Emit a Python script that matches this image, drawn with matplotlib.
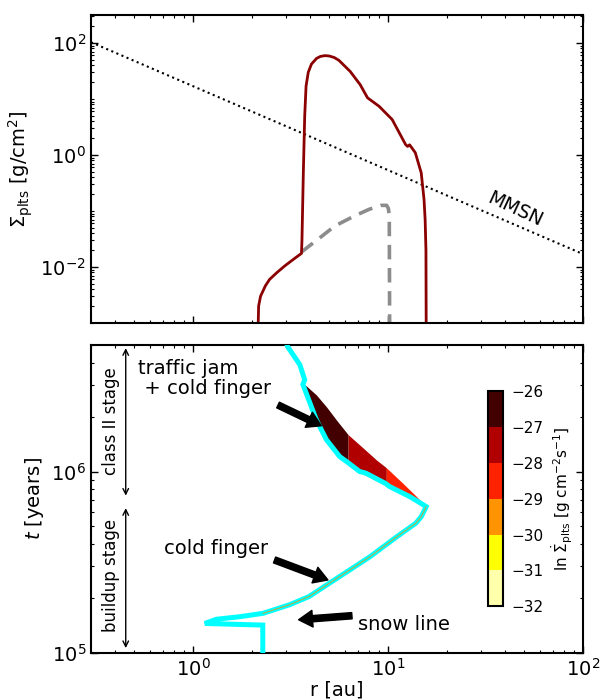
import numpy as np
import matplotlib

matplotlib.use("Agg")
import matplotlib.pyplot as plt
from matplotlib.colors import ListedColormap, BoundaryNorm
from matplotlib.cm import ScalarMappable
from matplotlib.ticker import LogLocator, LogFormatterSciNotation, NullFormatter

# --- ust panel: yuzey yogunlugu profilleri ---
r_sig = [2.15, 2.17, 2.22, 2.35, 2.47, 2.7, 2.96, 3.3, 3.6, 3.62, 3.68, 3.74, 3.8,
         3.9, 4.05, 4.3, 4.5, 4.75, 5.0, 5.3, 5.6, 6.4, 7.2, 7.85, 9.0, 10.5,
         12.3, 12.6, 12.9, 13.8, 14.8, 15.3, 15.5, 15.65, 15.7]
sig = [5e-4, 2e-3, 3e-3, 4.6e-3, 6e-3, 8e-3, 0.0105, 0.014, 0.0175, 0.03, 0.5, 5.0,
       17.0, 30.0, 42.0, 53.0, 57.5, 59.5, 58.5, 55.0, 49.0, 31.0, 18.0, 10.5, 7.4,
       4.3, 1.54, 1.42, 1.52, 1.1, 0.48, 0.16, 0.07, 0.02, 5e-4]

r_sig_early = [3.6, 4.46, 5.34, 6.7, 8.0, 9.2, 9.84, 10.05, 10.15, 10.2]
sig_early = [0.0185, 0.033, 0.054, 0.081, 0.107, 0.126, 0.126, 0.11, 0.08, 5e-4]

r_mmsn = [0.3, 100.0]
sig_mmsn = [103.0, 0.017]

# --- alt panel: kar cizgisi konumu ve birikim hizi ---
r_snow = [2.28, 2.28, 1.15, 1.32, 1.74, 2.29, 3.13, 3.93, 5.64, 8.09, 11.1, 13.9,
          14.8, 15.7, 15.4, 12.9, 10.2, 9.7, 7.7, 7.16, 6.17, 5.65, 4.83, 4.29,
          3.66, 3.74, 3.53, 3.06, 2.98]
t_snow = [1.0e5, 1.42e5, 1.45e5, 1.53e5, 1.58e5, 1.65e5, 1.84e5, 2.04e5, 2.63e5,
          3.39e5, 4.37e5, 5.19e5, 5.64e5, 6.4e5, 6.49e5, 7.28e5, 8.26e5, 8.6e5,
          9.8e5, 1.0e6, 1.13e6, 1.21e6, 1.5e6, 1.93e6, 3.03e6, 3.21e6, 3.89e6,
          4.89e6, 5.3e6]

r_fill = [3.67, 4.29, 4.83, 5.43, 6.24, 7.45, 8.72, 9.8, 11.9, 14.0, 15.6]
t_fill_bot = [3.03e6, 1.95e6, 1.5e6, 1.28e6, 1.1e6, 9.7e5, 8.9e5, 8.4e5, 7.6e5, 6.95e5, 6.42e5]
t_fill_top = [3.08e6, 2.65e6, 2.28e6, 1.93e6, 1.6e6, 1.35e6, 1.16e6, 1.05e6, 8.63e5, 7.28e5, 6.45e5]
band_edges = [3.6, 6.24, 9.8, 16.0]
band_lnrate = [-26.5, -27.5, -28.5]

cb_levels = [-32, -31, -30, -29, -28, -27, -26]

plt.rcParams["font.family"] = "DejaVu Sans"
plt.rcParams["mathtext.default"] = "regular"

fig = plt.figure(figsize=(6.04, 7.0), dpi=100)
ax1 = fig.add_axes([0.1507, 0.5386, 0.8146, 0.44])
ax2 = fig.add_axes([0.1507, 0.0676, 0.8146, 0.4396])
cax = fig.add_axes([0.808, 0.134, 0.025, 0.307])

cols = plt.get_cmap("hot_r")((np.arange(6) + 0.5) / 6)
cmap = ListedColormap(cols)
norm = BoundaryNorm(cb_levels, cmap.N)

# ust panel
ax1.plot(r_mmsn, sig_mmsn, ls=":", color="k", lw=1.5)
ax1.plot(r_sig_early, sig_early, ls="--", color="#8c8c8c", lw=2.6, dashes=(4, 2.4))
ax1.plot(r_sig, sig, color="#8b0000", lw=2.0)
ax1.text(45, 0.105, "MMSN", rotation=-25, ha="center", va="center", fontsize=13.5)
ax1.set_xscale("log"); ax1.set_yscale("log")
ax1.set_xlim(0.3, 100); ax1.set_ylim(1e-3, 10 ** 2.5)
ax1.yaxis.set_major_locator(LogLocator(base=100))
ax1.yaxis.set_major_formatter(LogFormatterSciNotation(base=10))
ax1.yaxis.set_minor_locator(LogLocator(base=10, subs=np.arange(1, 10), numticks=30))
ax1.yaxis.set_minor_formatter(NullFormatter())
ax1.xaxis.set_major_formatter(NullFormatter())
ax1.set_ylabel(r"$\Sigma_{\rm plts}$ [g/cm$^2$]", fontsize=14)

# alt panel
r_fill_a = np.array(r_fill)
for lo, hi, val in zip(band_edges[:-1], band_edges[1:], band_lnrate):
    m = (r_fill_a >= lo) & (r_fill_a <= hi)
    ax2.fill_between(r_fill, t_fill_bot, t_fill_top, where=m, color=cmap(norm(val)),
                     lw=0, zorder=2)
ax2.plot(r_snow, t_snow, color="#00ffff", lw=3.6, zorder=3, solid_joinstyle="miter")
ax2.plot(r_snow[5:14], t_snow[5:14], color="#ff8c00", lw=0.7, alpha=0.8, zorder=4)
ax2.set_xscale("log"); ax2.set_yscale("log")
ax2.set_xlim(0.3, 100); ax2.set_ylim(1e5, 5e6)

arr = dict(facecolor="k", edgecolor="k", width=4.5, headwidth=12, headlength=10, shrink=0)
ax2.annotate("", xy=(4.55, 1.79e6), xytext=(2.73, 2.33e6), arrowprops=arr)
ax2.annotate("", xy=(4.92, 2.52e5), xytext=(2.62, 3.25e5), arrowprops=arr)
ax2.annotate("", xy=(3.48, 1.52e5), xytext=(6.53, 1.6e5), arrowprops=arr)
ax2.text(0.52, 4.2e6, "traffic jam\n + cold finger", fontsize=14, ha="left", va="top",
         linespacing=1.1)
ax2.text(0.708, 3.51e5, "cold finger", fontsize=14, ha="left", va="baseline")
ax2.text(7.05, 1.33e5, "snow line", fontsize=14, ha="left", va="baseline")

sarr = dict(arrowstyle="<->", lw=1, color="k", shrinkA=0, shrinkB=0)
ax2.annotate("", xy=(0.452, 4.8e6), xytext=(0.452, 7.36e5), arrowprops=sarr)
ax2.annotate("", xy=(0.452, 6.28e5), xytext=(0.452, 1.06e5), arrowprops=sarr)
ax2.text(0.382, 1.89e6, "class II stage", rotation=90, ha="center", va="center", fontsize=12)
ax2.text(0.382, 2.68e5, "buildup stage", rotation=90, ha="center", va="center", fontsize=12)

ax2.set_xlabel("r [au]", fontsize=14, labelpad=1)
ax2.set_ylabel(r"$\it{t}$ [years]", fontsize=14)

for a in (ax1, ax2):
    a.tick_params(which="both", direction="in", top=True, right=True, labelsize=14)
    a.tick_params(which="major", length=5, width=1)
    a.tick_params(which="minor", length=2.5, width=0.8)
    for s in a.spines.values():
        s.set_linewidth(1.5)

cb = fig.colorbar(ScalarMappable(norm=norm, cmap=cmap), cax=cax, ticks=cb_levels)
cb.outline.set_linewidth(1.5)
cb.ax.tick_params(labelsize=11, length=0, pad=6)
cb.set_label(r"ln $\dot{\Sigma}_{\rm plts}$ [g cm$^{-2}$s$^{-1}$]", fontsize=11)

fig.savefig("out.png", dpi=100)
